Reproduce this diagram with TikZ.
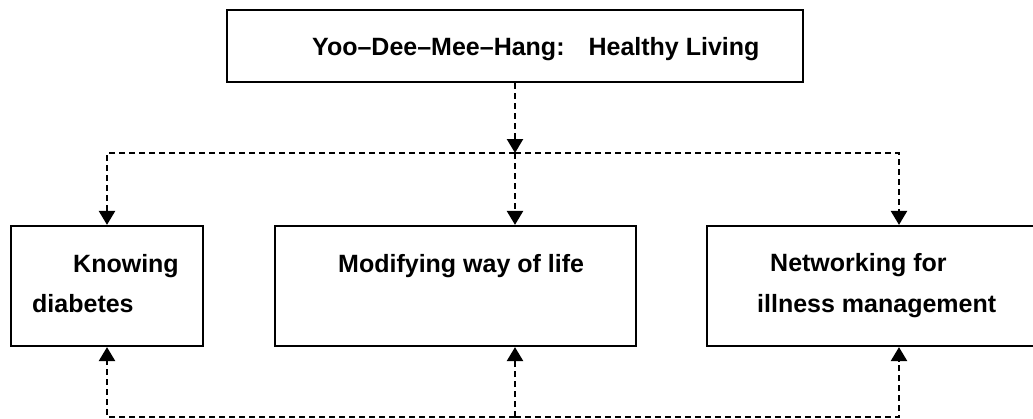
\documentclass[tikz,border=0pt]{standalone}
\usepackage{fontspec}
\setmainfont{Liberation Sans}
\usetikzlibrary{arrows.meta}
\begin{document}
\begin{tikzpicture}[x=1pt,y=-1pt,
  box/.style={draw,line width=2.2pt,inner sep=0pt,minimum height=120pt},
  lbl/.style={anchor=base west,inner sep=0pt,font=\fontsize{25}{30}\selectfont\bfseries},
  link/.style={line width=2.4pt,dash pattern=on 6pt off 4pt},
  tip/.style={-{Triangle[length=14pt 0 0,width=16pt 0]}}]
\useasboundingbox (0,0) rectangle (1033,418);
\clip (0,0) rectangle (1033,418);
\node[box,minimum width=576pt,minimum height=72pt] (title) at (515,46) {};
\node[box,minimum width=192pt] (know) at (107,286) {};
\node[box,minimum width=361pt] (modify) at (455.5,286) {};
\node[box,minimum width=384pt] (network) at (899,286) {};
\node[lbl] (t0) at (312,55) {Yoo--Dee--Mee--Hang:\hspace{24pt}Healthy Living};
\node[lbl] (t1) at (73,272) {Knowing};
\node[lbl] (t2) at (32,312) {diabetes};
\node[lbl] (t3) at (338,272) {Modifying way of life};
\node[lbl] (t4) at (770,271) {Networking for};
\node[lbl] (t5) at (757,312) {illness management};
\coordinate (top) at (515,153);
\coordinate (bot) at (515,417);
\draw[link,tip] (title.south) -- (top);
\draw[link,tip] (top) -| (know.north);
\draw[link,tip] (top) -- (top |- modify.north);
\draw[link,tip] (top) -| (network.north);
\draw[link,tip] (bot) -| (know.south);
\draw[link,tip] (bot) -- (bot |- modify.south);
\draw[link,tip] (bot) -| (network.south);
\end{tikzpicture}
\end{document}
